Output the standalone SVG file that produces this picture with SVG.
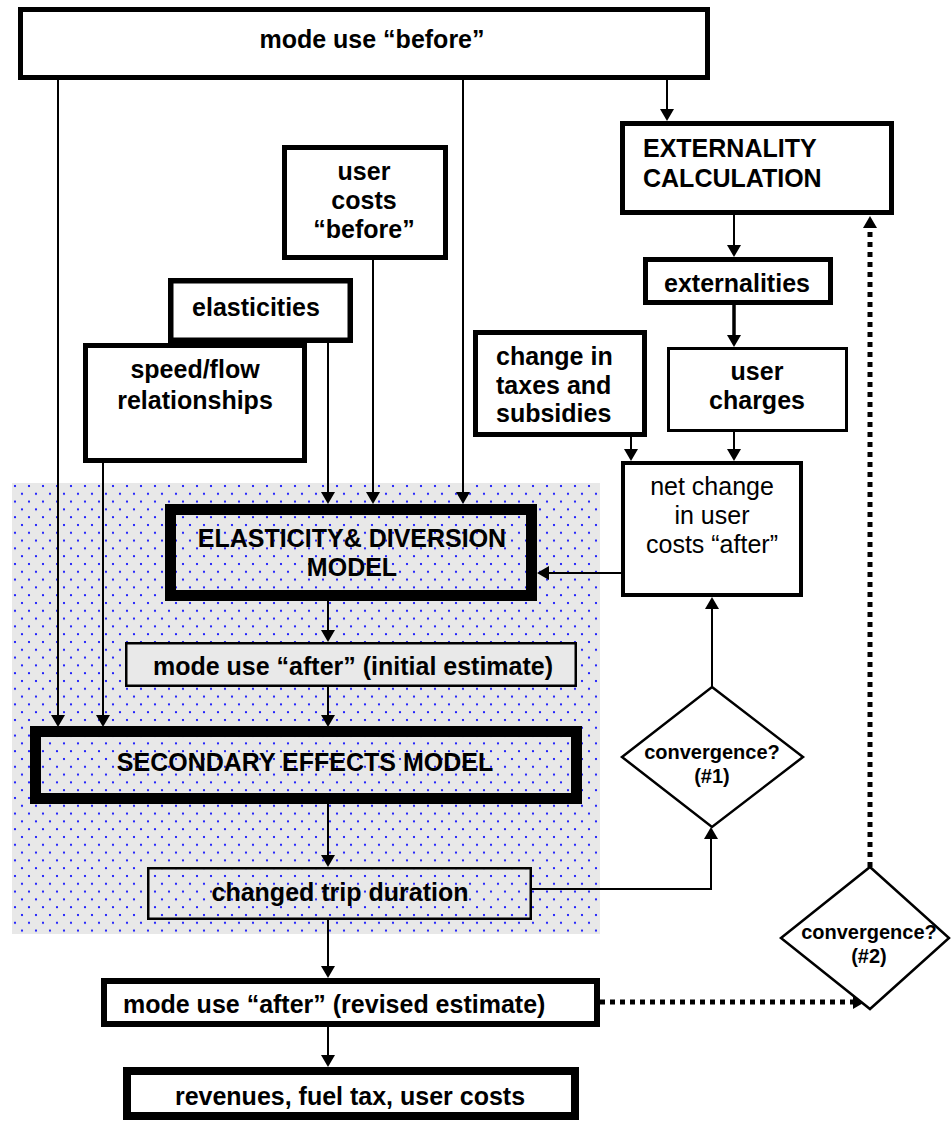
<svg xmlns="http://www.w3.org/2000/svg" width="951" height="1122" viewBox="0 0 951 1122">
  <defs>
    <pattern id="dots" patternUnits="userSpaceOnUse" x="12" y="483" width="14" height="15.6">
      <rect width="14" height="15.6" fill="#e8e8e8"/>
      <circle cx="3" cy="3" r="1.1" fill="#0000ff"/>
      <circle cx="10" cy="10.8" r="1.1" fill="#0000ff"/>
    </pattern>
    <marker id="arrow" markerUnits="userSpaceOnUse" viewBox="0 0 12 14" refX="0" refY="7" markerWidth="12" markerHeight="14" orient="auto">
      <path d="M0,0 L12,7 L0,14 z" fill="#000"/>
    </marker>
  </defs>
  <style>
    .box { fill: #fff; stroke: #000; }
    .clear { fill: none; stroke: #000; }
    .t { font-family: "Liberation Sans", Arial, sans-serif; font-size: 25px; font-weight: bold; fill: #000; }
    .c { text-anchor: middle; }
    .reg { font-weight: normal; }
    .q { font-size: 20px; }
    .conn { fill: none; stroke: #000; stroke-width: 2; marker-end: url(#arrow); }
    .dotted { fill: none; stroke: #000; stroke-width: 5; stroke-dasharray: 5 5; marker-end: url(#arrow); }
  </style>

  <!-- shaded model area -->
  <rect id="model-area" x="12" y="483" width="588" height="451" fill="url(#dots)"/>

  <g id="connectors">
    <path class="conn" d="M58,80 V715"/>
    <path class="conn" d="M463,80 V492"/>
    <path class="conn" d="M667,80 V109"/>
    <path class="conn" d="M373,260 V492"/>
    <path class="conn" d="M328,343 V492"/>
    <path class="conn" d="M103,463 V715"/>
    <path class="conn" d="M734,215 V245"/>
    <path class="conn" d="M734,305 V335" style="stroke-width:3.5"/>
    <path class="conn" d="M734,432 V449"/>
    <path class="conn" d="M631,437 V449"/>
    <path class="conn" d="M621,573 H549"/>
    <path class="conn" d="M712,687 V609"/>
    <path class="conn" d="M532,889 H711 V839"/>
    <path class="conn" d="M328,601 V630"/>
    <path class="conn" d="M328,687 V715"/>
    <path class="conn" d="M328,804 V855"/>
    <path class="conn" d="M328,920 V966"/>
    <path class="conn" d="M328,1027 V1055"/>
    <path class="dotted" d="M600,1002 H853"/>
    <path class="dotted" d="M870,867 V228"/>
  </g>

  <g id="mode-use-before">
    <rect class="box" x="20.5" y="9.5" width="687" height="68" stroke-width="5"/>
    <text class="t c" x="372" y="48">mode use “before”</text>
  </g>

  <g id="user-costs-before">
    <rect class="box" x="284.5" y="147.5" width="161" height="110" stroke-width="5"/>
    <text class="t c" x="364" y="180">user</text>
    <text class="t c" x="364" y="209">costs</text>
    <text class="t c" x="364" y="238">“before”</text>
  </g>

  <g id="elasticities">
    <rect class="box" x="170.75" y="280.75" width="179.5" height="59.5" stroke-width="5.5"/>
    <text class="t c" x="256" y="316">elasticities</text>
  </g>

  <g id="speed-flow">
    <rect class="box" x="85.5" y="345.5" width="219" height="115" stroke-width="5"/>
    <text class="t c" x="195" y="378">speed/flow</text>
    <text class="t c" x="195" y="409">relationships</text>
  </g>

  <g id="taxes-subsidies">
    <rect class="box" x="475.5" y="332.5" width="169" height="102" stroke-width="5"/>
    <text class="t" x="496" y="365">change in</text>
    <text class="t" x="496" y="394">taxes and</text>
    <text class="t" x="496" y="422">subsidies</text>
  </g>

  <g id="externality-calculation">
    <rect class="box" x="622.5" y="123.5" width="269" height="89" stroke-width="5"/>
    <text class="t" x="643" y="157">EXTERNALITY</text>
    <text class="t" x="643" y="187">CALCULATION</text>
  </g>

  <g id="externalities">
    <rect class="box" x="645.5" y="259.5" width="185" height="43" stroke-width="5"/>
    <text class="t c" x="737" y="292">externalities</text>
  </g>

  <g id="user-charges">
    <rect class="box" x="668.5" y="348.5" width="178" height="82" stroke-width="3"/>
    <text class="t c" x="757" y="380">user</text>
    <text class="t c" x="757" y="409">charges</text>
  </g>

  <g id="net-change">
    <rect class="box" x="623" y="463" width="178" height="132" stroke-width="4"/>
    <text class="t c reg" x="712" y="495">net change</text>
    <text class="t c reg" x="712" y="524">in user</text>
    <text class="t c reg" x="712" y="553">costs “after”</text>
  </g>

  <g id="elasticity-diversion-model">
    <rect class="clear" x="170.5" y="509.5" width="361" height="86" stroke-width="11"/>
    <text class="t c" x="352" y="547">ELASTICITY&amp; DIVERSION</text>
    <text class="t c" x="352" y="576">MODEL</text>
  </g>

  <g id="mode-use-after-initial">
    <rect x="126.25" y="643.25" width="449.5" height="42.5" fill="#e9e9e9" stroke="#000" stroke-width="2.5"/>
    <text class="t c" x="353" y="675">mode use “after” (initial estimate)</text>
  </g>

  <g id="secondary-effects-model">
    <rect class="clear" x="35.5" y="731.5" width="541" height="67" stroke-width="11"/>
    <text class="t c" x="305" y="771">SECONDARY EFFECTS MODEL</text>
  </g>

  <g id="changed-trip-duration">
    <rect class="clear" x="148.25" y="868.25" width="382.5" height="50.5" stroke-width="2.5"/>
    <text class="t c" x="340" y="901">changed trip duration</text>
  </g>

  <g id="mode-use-after-revised">
    <rect class="box" x="104" y="981" width="493" height="43" stroke-width="6"/>
    <text class="t" x="123" y="1013">mode use “after” (revised estimate)</text>
  </g>

  <g id="revenues">
    <rect class="box" x="127" y="1071" width="448" height="45" stroke-width="8"/>
    <text class="t c" x="350" y="1105">revenues, fuel tax, user costs</text>
  </g>

  <g id="convergence-1">
    <polygon points="712,687 803,757 712,827 622,757" fill="#fff" stroke="#000" stroke-width="2.5"/>
    <text class="t c q" x="712" y="759">convergence?</text>
    <text class="t c q" x="712" y="783">(#1)</text>
  </g>

  <g id="convergence-2">
    <polygon points="870,867 949,938 870,1009 781,938" fill="#fff" stroke="#000" stroke-width="2.5"/>
    <text class="t c q" x="869" y="939">convergence?</text>
    <text class="t c q" x="869" y="963">(#2)</text>
  </g>
</svg>
